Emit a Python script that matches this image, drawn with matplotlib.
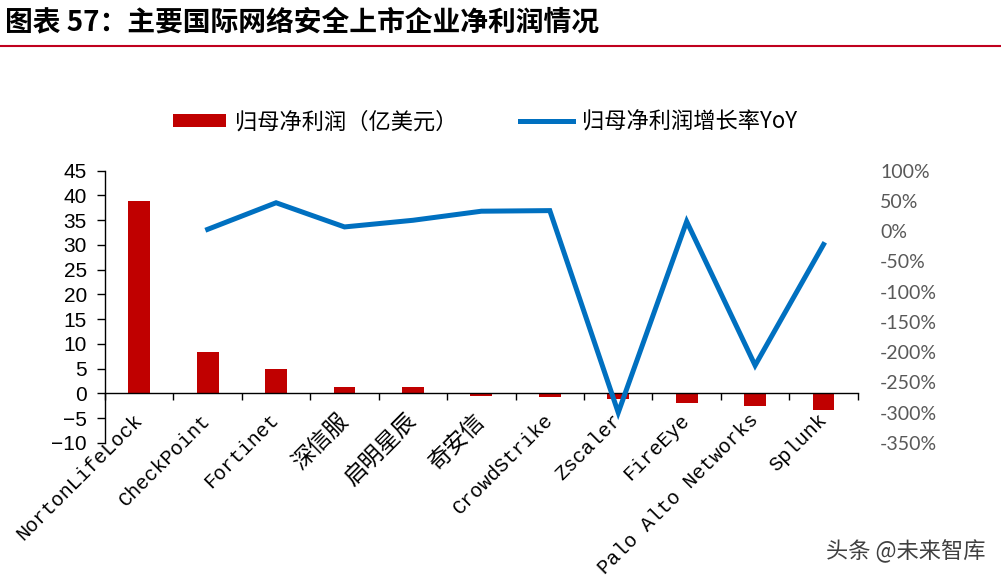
import numpy as np
import matplotlib
matplotlib.use('Agg')
import matplotlib.pyplot as plt
from matplotlib.lines import Line2D
from matplotlib.patches import Patch
from matplotlib.ticker import FuncFormatter, MultipleLocator

plt.rcParams['font.family'] = ['Noto Sans CJK SC', 'DejaVu Sans']

# 數據
companies = ['NortonLifeLock', 'CheckPoint', 'Fortinet', '深信服', '启明星辰', '奇安信',
             'CrowdStrike', 'Zscaler', 'FireEye', 'Palo Alto Networks', 'Splunk']
net_profit = [38.9, 8.4, 4.9, 1.2, 1.2, -0.5, -0.8, -1.15, -2.0, -2.6, -3.3]
yoy = [np.nan, 3, 47, 7, 18, 33, 34, -300, 16, -222, -22]

title = '图表 57：主要国际网络安全上市企业净利润情况'
bar_label = '归母净利润（亿美元）'
line_label = '归母净利润增长率YoY'
watermark = '头条 @未来智库'

bar_color = '#C00000'
line_color = '#0070C0'

fig = plt.figure(figsize=(10.01, 5.83), dpi=100)
ax = fig.add_axes([0.1049, 0.2405, 0.752, 0.4667])
ax2 = ax.twinx()

x = np.arange(len(companies))
ax.bar(x, net_profit, width=0.32, color=bar_color, zorder=2)
ax2.plot(x, yoy, color=line_color, lw=3.6, solid_joinstyle='miter')

# 左軸
ax.set_xlim(-0.5, len(companies) - 0.5)
ax.set_ylim(-10, 45)
ax.yaxis.set_major_locator(MultipleLocator(5))
ax.tick_params(axis='y', direction='out', length=6, width=1, pad=7,
               labelsize=15, labelfontfamily='Liberation Sans')
ax.spines['top'].set_visible(False)
ax.spines['right'].set_visible(False)
ax.spines['bottom'].set_position(('data', 0))
ax.spines['left'].set_linewidth(1)
ax.spines['bottom'].set_linewidth(1)

ax.set_xticks(x)
ax.set_xticks(np.arange(len(companies) + 1) - 0.5, minor=True)
ax.tick_params(axis='x', which='major', length=0, pad=17)
ax.tick_params(axis='x', which='minor', direction='out', length=5, width=1)
ax.set_xticklabels(companies, rotation=45, ha='right', va='center', rotation_mode='anchor',
                   fontsize=14.5, family=['Liberation Mono', 'Noto Sans CJK SC'])
# 中文標籤字大一點
for lbl in ax.get_xticklabels():
    if not lbl.get_text().isascii():
        lbl.set_fontsize(16.5)

# 右軸
ax2.set_ylim(-350, 100)
ax2.yaxis.set_major_locator(MultipleLocator(50))
ax2.yaxis.set_major_formatter(FuncFormatter(lambda v, p: '{:.0f}%'.format(v)))
ax2.tick_params(axis='y', length=0, pad=16, labelsize=14, labelcolor='#595959',
                labelfontfamily='Lato')
for s in ax2.spines.values():
    s.set_visible(False)

# 圖例
handles = [Patch(facecolor=bar_color), Line2D([], [], color=line_color, lw=3.6)]
fig.legend(handles, [bar_label, line_label], loc='center',
           bbox_to_anchor=(485 / 1001, 1 - 122 / 583), ncol=2, frameon=False,
           fontsize=16, handlelength=2.4, handleheight=0.55, handletextpad=0.4,
           columnspacing=2.8)

# 標題
fig.text(0.005, 1 - 22 / 583, title, fontsize=20, fontweight='bold', va='center', ha='left')
fig.add_artist(Line2D([0, 1], [1 - 46 / 583, 1 - 46 / 583], transform=fig.transFigure,
                      color='#C0001E', lw=1.5))
fig.text(985 / 1001, 1 - 551 / 583, watermark, fontsize=16, color='#404040',
         ha='right', va='center')

fig.savefig('out.png', dpi=100)
